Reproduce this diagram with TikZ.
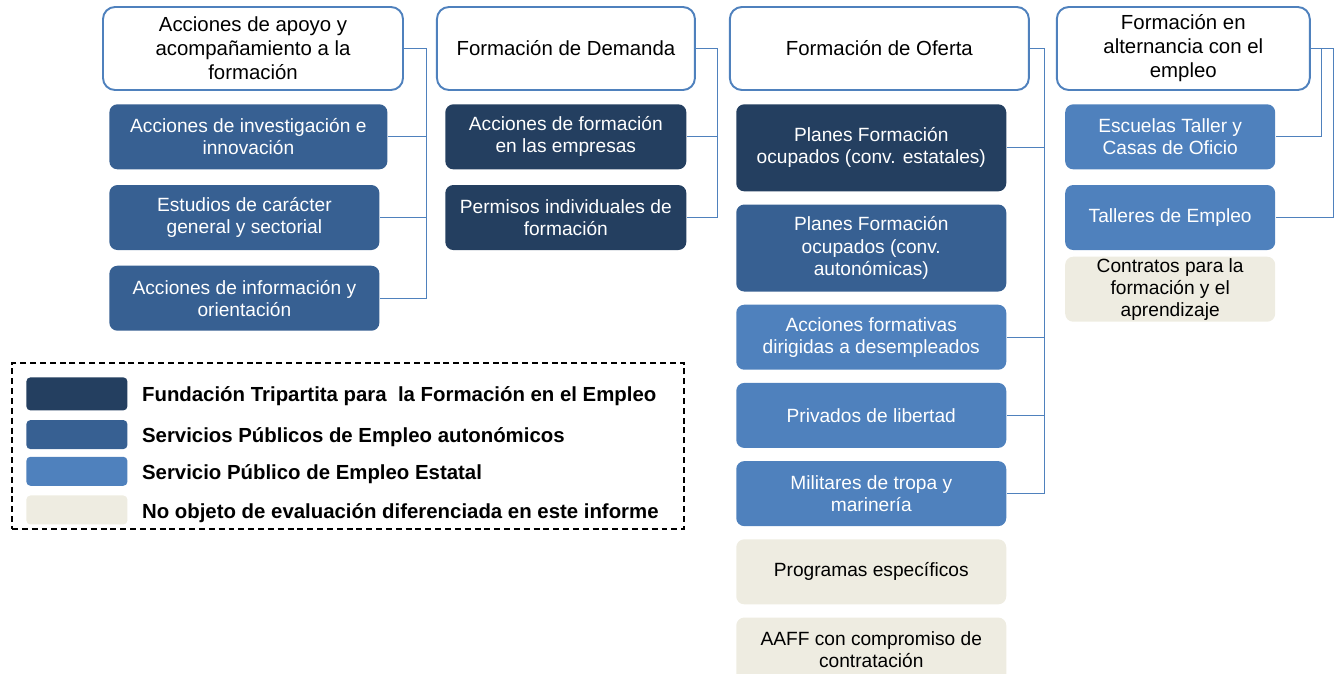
\documentclass[tikz,border=0pt]{standalone}
\usepackage{fontspec}
\setmainfont{Liberation Sans}
\usepackage{tikz}
\usetikzlibrary{positioning}
\definecolor{ftfeblue}{HTML}{243F60}
\definecolor{autoblue}{HTML}{376092}
\definecolor{sepeblue}{HTML}{4F81BD}
\definecolor{restbeige}{HTML}{EEECE1}
\definecolor{linkblue}{HTML}{4F81BD}
\newcommand{\headfont}{\fontsize{11.6}{13.6}\selectfont}
\newcommand{\unitfont}{\fontsize{10.9}{12.6}\selectfont}
\newcommand{\keyfont}{\fontsize{11.6}{13.6}\selectfont\bfseries}
\tikzstyle{branch} = [draw=linkblue, line width=1.1pt, fill=white, rounded corners=0.24cm, align=center, minimum height=1.66cm, inner sep=0pt, font=\headfont]
\tikzstyle{unit} = [rounded corners=0.16cm, align=center, minimum height=1.3cm, inner xsep=0pt, inner ysep=0.02cm, font=\unitfont, text=white]
\tikzstyle{ftfebox} = [unit, fill=ftfeblue]
\tikzstyle{ccaabox} = [unit, fill=autoblue]
\tikzstyle{sepebox} = [unit, fill=sepeblue]
\tikzstyle{restbox} = [unit, fill=restbeige, text=black]
\tikzstyle{link} = [draw=linkblue, line width=0.6pt]
\tikzstyle{swatch} = [rounded corners=0.08cm, minimum width=2.02cm, minimum height=0.58cm, inner sep=0pt]
\tikzstyle{keytext} = [font=\keyfont, anchor=west, inner sep=0pt]

\begin{document}
\begin{tikzpicture}
	\useasboundingbox (0,0) rectangle (26.7,-13.48);
	% headers
	\node (apoyo) [branch, minimum width=6cm] at (5.06,-0.97) {Acciones de apoyo y\\acompañamiento a la\\formación};
	\node (demanda) [branch, minimum width=5.16cm, right = 0.64cm of apoyo] {Formación de Demanda};
	\node (oferta) [branch, minimum width=5.98cm, right = 0.66cm of demanda] {Formación de Oferta};
	\node (alterna) [branch, minimum width=5.06cm, right = 0.52cm of oferta] {Formación en\\alternancia con el\\empleo};
	% apoyo y acompañamiento
	\node (investiga) [ccaabox, minimum width=5.56cm, below right = 0.26cm and 0.14cm of apoyo.south west] {Acciones de investigación e\\innovación};
	\node (estudios) [ccaabox, minimum width=5.4cm, below right = 0.3cm and 0cm of investiga.south west] {Estudios de carácter\\general y sectorial};
	\node (informa) [ccaabox, minimum width=5.4cm, below right = 0.3cm and 0cm of estudios.south west] {Acciones de información y\\orientación};
	% demanda
	\node (empresas) [ftfebox, minimum width=4.82cm, below right = 0.26cm and 0.18cm of demanda.south west] {Acciones de formación\\en las empresas};
	\node (permisos) [ftfebox, minimum width=4.82cm, below right = 0.3cm and 0cm of empresas.south west] {Permisos individuales de\\formación};
	% oferta
	\node (estatales) [ftfebox, minimum width=5.4cm, minimum height=1.74cm, below right = 0.26cm and 0.14cm of oferta.south west] {Planes Formación\\ocupados (conv. estatales)};
	\node (autonomicas) [ccaabox, minimum width=5.4cm, minimum height=1.74cm, below right = 0.25cm and 0cm of estatales.south west] {Planes Formación\\ocupados (conv.\\autonómicas)};
	\node (desempleados) [sepebox, minimum width=5.4cm, below right = 0.25cm and 0cm of autonomicas.south west] {Acciones formativas\\dirigidas a desempleados};
	\node (privados) [sepebox, minimum width=5.4cm, below right = 0.25cm and 0cm of desempleados.south west] {Privados de libertad};
	\node (militares) [sepebox, minimum width=5.4cm, below right = 0.25cm and 0cm of privados.south west] {Militares de tropa y\\marinería};
	\node (programas) [restbox, minimum width=5.4cm, below right = 0.25cm and 0cm of militares.south west] {Programas específicos};
	\node (compromiso) [restbox, minimum width=5.4cm, below right = 0.25cm and 0cm of programas.south west] {AAFF con compromiso de\\contratación};
	% alternancia
	\node (escuelas) [sepebox, minimum width=4.2cm, below right = 0.26cm and 0.18cm of alterna.south west] {Escuelas Taller y\\Casas de Oficio};
	\node (talleres) [sepebox, minimum width=4.2cm, below right = 0.3cm and 0cm of escuelas.south west] {Talleres de Empleo};
	\node (contratos) [restbox, minimum width=4.2cm, below right = 0.12cm and 0cm of talleres.south west] {Contratos para la\\formación y el\\aprendizaje};
	% connectors
	\draw [link] (apoyo.east) -- ++(0.46,0) |- (investiga.east);
	\draw [link] (apoyo.east) -- ++(0.46,0) |- (estudios.east);
	\draw [link] (apoyo.east) -- ++(0.46,0) |- (informa.east);
	\draw [link] (demanda.east) -- ++(0.44,0) |- (empresas.east);
	\draw [link] (demanda.east) -- ++(0.44,0) |- (permisos.east);
	\draw [link] (oferta.east) -- ++(0.3,0) |- (estatales.east);
	\draw [link] (oferta.east) -- ++(0.3,0) |- (desempleados.east);
	\draw [link] (oferta.east) -- ++(0.3,0) |- (privados.east);
	\draw [link] (oferta.east) -- ++(0.3,0) |- (militares.east);
	\draw [link] (alterna.east) -- ++(0.22,0) |- (escuelas.east);
	\draw [link] (alterna.east) -- ++(0.46,0) |- (talleres.east);
	% legend
	\node (leyenda) [draw, line width=1.1pt, dash pattern=on 3.4pt off 2.2pt, minimum width=13.44cm, minimum height=3.32cm] at (6.96,-8.92) {};
	\node (sw1) [swatch, fill=ftfeblue, minimum height=0.66cm, below right = 0.3cm and 0.3cm of leyenda.north west] {};
	\node (sw2) [swatch, fill=autoblue, below right = 0.18cm and 0cm of sw1.south west] {};
	\node (sw3) [swatch, fill=sepeblue, below right = 0.14cm and 0cm of sw2.south west] {};
	\node (sw4) [swatch, fill=restbeige, below right = 0.18cm and 0cm of sw3.south west] {};
	\node (key1) [keytext, right = 0.28cm of sw1, yshift=-0.05cm] {Fundación Tripartita para\ \ la Formación en el Empleo};
	\node (key2) [keytext, right = 0.28cm of sw2, yshift=-0.05cm] {Servicios Públicos de Empleo autonómicos};
	\node (key3) [keytext, right = 0.28cm of sw3, yshift=-0.05cm] {Servicio Público de Empleo Estatal};
	\node (key4) [keytext, right = 0.28cm of sw4, yshift=-0.07cm] {No objeto de evaluación diferenciada en este informe};
\end{tikzpicture}
\end{document}
